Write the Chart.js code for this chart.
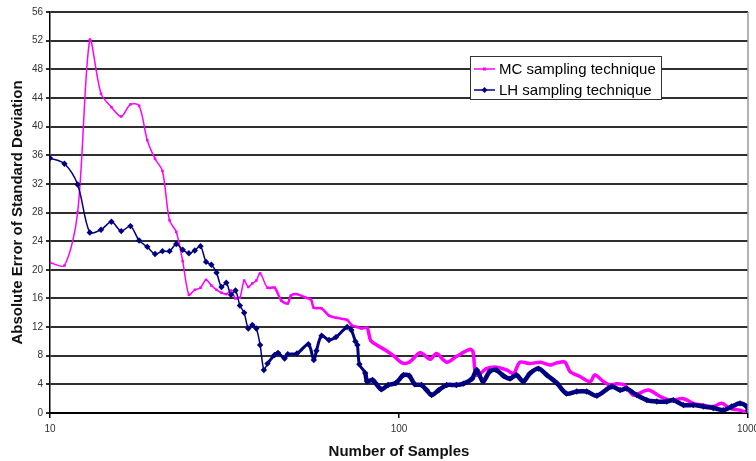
<!DOCTYPE html>
<html>
<head>
<meta charset="utf-8">
<script src="https://cdn.jsdelivr.net/npm/chart.js@4/dist/chart.umd.min.js"></script>
<style>
  html, body { margin: 0; padding: 0; background: #ffffff; }
  canvas { display: block; }
</style>
</head>
<body>
<canvas id="chart" width="756" height="461"></canvas>
<script>
// Monte Carlo sampling: sample count and absolute error of the standard deviation
const mcSamples = [10, 11, 12, 13, 14, 15, 16, 17, 18, 19, 20, 21, 22, 23, 24, 25, 26, 27, 28, 29,
  30, 31, 32, 33, 34, 35, 36, 37, 38, 39, 40, 42, 44, 46, 48, 49, 51, 54, 56, 57,
  60, 63, 66, 71, 73, 76, 78, 81, 83, 87, 92, 97, 102, 107, 115, 123, 128, 137, 146, 160,
  163, 166, 171, 178, 190, 204, 213, 222, 237, 254, 271, 283, 299, 309, 330, 353, 364, 385, 402, 421,
  444, 469, 518, 560, 598, 653, 697, 745, 795, 840, 888, 949, 1000];
const mcError = [21.0, 20.6, 28.0, 52.1, 44.6, 42.7, 41.4, 43.1, 42.9, 38.1, 35.5, 33.8, 26.9, 25.3, 21.2, 16.5, 17.2, 17.5, 18.6, 17.8,
  17.2, 16.8, 16.6, 17.1, 16.0, 16.1, 18.5, 17.6, 18.1, 18.5, 19.5, 17.5, 17.5, 15.7, 15.3, 16.4, 16.6, 16.1, 15.8, 14.7,
  14.6, 13.6, 13.3, 13.0, 12.3, 12.0, 11.8, 11.9, 10.1, 9.4, 8.7, 7.9, 7.0, 7.1, 8.4, 7.5, 8.3, 7.1, 7.9, 8.9,
  8.5, 5.3, 5.5, 6.2, 6.4, 6.0, 5.5, 7.1, 6.9, 7.1, 6.7, 7.0, 7.1, 5.8, 5.1, 4.4, 5.3, 4.4, 3.9, 4.1,
  3.9, 2.5, 3.2, 2.3, 1.8, 2.0, 1.35, 1.1, 0.9, 1.35, 0.65, 0.4, 0.0];

// Latin Hypercube sampling
const lhSamples = [10, 11, 12, 13, 14, 15, 16, 17, 18, 19, 20, 21, 22, 23, 24, 25, 26, 27, 28, 29,
  30, 31, 32, 33, 34, 35, 36, 37, 38, 39, 40, 41, 42, 44, 45, 47, 48, 51, 55, 57,
  58, 60, 63, 66, 71, 73, 75, 76, 77, 80, 81, 84, 89, 93, 98, 103, 107, 111, 116, 120,
  124, 130, 137, 146, 153, 162, 167, 174, 182, 190, 199, 208, 217, 227, 237, 251, 265, 283, 302, 323,
  345, 369, 407, 430, 449, 480, 513, 548, 585, 611, 653, 697, 745, 795, 849, 898, 949, 992, 1000];
const lhError = [35.6, 34.8, 31.9, 25.2, 25.6, 26.7, 25.4, 26.1, 24.1, 23.2, 22.2, 22.6, 22.6, 23.6, 22.8, 22.3, 22.7, 23.3, 21.1, 20.7,
  19.6, 17.6, 18.2, 16.5, 17.1, 15.0, 14.0, 11.8, 12.3, 11.8, 9.5, 6.0, 6.9, 8.1, 8.4, 7.6, 8.2, 8.3, 9.6, 7.4,
  8.7, 10.8, 10.2, 10.6, 12.0, 11.6, 10.0, 9.5, 6.8, 5.6, 4.4, 4.6, 3.3, 3.9, 4.2, 5.3, 5.2, 4.0, 3.9, 3.2,
  2.5, 3.2, 3.9, 3.9, 4.1, 4.8, 6.0, 4.4, 5.8, 6.0, 5.2, 4.8, 5.3, 4.4, 5.5, 6.2, 5.3, 4.2, 2.7, 3.0,
  3.0, 2.4, 3.7, 3.2, 3.4, 2.5, 1.8, 1.6, 1.6, 1.8, 1.1, 1.1, 0.9, 0.7, 0.4, 0.9, 1.35, 0.9, 0.3];

const seriesNames = ['MC sampling technique', 'LH sampling technique'];
const xTickValues = [10, 100, 1000];
const yMin = 0, yMax = 56, yStep = 2;

const FONT = '"Liberation Sans", Arial, Helvetica, sans-serif';

const toPoints = (xs, ys) => xs.map((x, i) => ({ x: x, y: ys[i] }));

// Markers crowd together as samples get denser, so the trace thickens
const bandWidth = (thin, mid, thick) => ctx => {
  const n = ctx.p0.parsed.x;
  return n < 42 ? thin : (n < 80 ? mid : thick);
};

// Boxed legend drawn inside the plot area, plus the plot's right edge
const framePlugin = {
  id: 'frame',
  afterDatasetsDraw(chart) {
    const { ctx, chartArea } = chart;
    ctx.save();
    ctx.strokeStyle = '#9a9a9a';
    ctx.lineWidth = 1.5;
    ctx.beginPath();
    ctx.moveTo(chartArea.right, chartArea.top);
    ctx.lineTo(chartArea.right, chartArea.bottom);
    ctx.stroke();

    const bx = 470.5, by = 56.5, bw = 191, bh = 43;
    ctx.fillStyle = '#ffffff';
    ctx.fillRect(bx, by, bw, bh);
    ctx.strokeStyle = '#333333';
    ctx.lineWidth = 1;
    ctx.strokeRect(bx, by, bw, bh);

    const rows = [
      { ds: chart.data.datasets[0], y: 69 },
      { ds: chart.data.datasets[1], y: 90 }
    ];
    ctx.font = '15px ' + FONT;
    ctx.textBaseline = 'middle';
    rows.forEach(r => {
      ctx.strokeStyle = r.ds.borderColor;
      ctx.lineWidth = 1.5;
      ctx.beginPath();
      ctx.moveTo(474, r.y);
      ctx.lineTo(495, r.y);
      ctx.stroke();
      ctx.fillStyle = r.ds.borderColor;
      ctx.beginPath();
      if (r.ds.pointStyle === 'rectRot') {
        ctx.moveTo(484.5, r.y - 3); ctx.lineTo(487.5, r.y); ctx.lineTo(484.5, r.y + 3); ctx.lineTo(481.5, r.y);
      } else {
        ctx.rect(483, r.y - 1.5, 3, 3);
      }
      ctx.closePath();
      ctx.fill();
      ctx.fillStyle = '#000000';
      ctx.fillText(r.ds.label, 499, r.y + 1);
    });
    ctx.restore();
  }
};

new Chart(document.getElementById('chart'), {
  type: 'line',
  data: {
    datasets: [
      {
        label: seriesNames[0],
        data: toPoints(mcSamples, mcError),
        borderColor: '#ff00ff',
        backgroundColor: '#ff00ff',
        pointBackgroundColor: '#ff00ff',
        pointBorderColor: '#ff00ff',
        pointStyle: 'rect',
        pointRadius: 1.8,
        pointBorderWidth: 0,
        borderWidth: 1.5,
        tension: 0.3,
        order: 1,
        segment: { borderWidth: bandWidth(1.5, 2.5, 3.5) }
      },
      {
        label: seriesNames[1],
        data: toPoints(lhSamples, lhError),
        borderColor: '#000080',
        backgroundColor: '#000080',
        pointBackgroundColor: '#000080',
        pointBorderColor: '#000080',
        pointStyle: 'rectRot',
        pointRadius: 3.2,
        pointBorderWidth: 0,
        borderWidth: 1.5,
        tension: 0.3,
        order: 0,
        segment: { borderWidth: bandWidth(1.5, 3, 4.5) }
      }
    ]
  },
  options: {
    responsive: false,
    animation: false,
    events: [],
    layout: { padding: { top: 12, right: 8, left: 0, bottom: 0 } },
    plugins: {
      legend: { display: false },
      tooltip: { enabled: false }
    },
    scales: {
      x: {
        type: 'logarithmic',
        min: 10,
        max: 1000,
        afterBuildTicks: scale => { scale.ticks = xTickValues.map(v => ({ value: v })); },
        afterFit: scale => { scale.height = 48; scale.paddingLeft = 0; scale.paddingRight = 0; },
        ticks: {
          autoSkip: false,
          maxRotation: 0,
          padding: 5,
          color: '#333333',
          font: { family: FONT, size: 10 },
          callback: v => String(v)
        },
        grid: {
          drawOnChartArea: false,
          drawTicks: true,
          tickLength: 5,
          color: '#000000',
          lineWidth: 1.5
        },
        border: { display: true, color: '#000000', width: 2 },
        title: {
          display: true,
          text: 'Number of Samples',
          color: '#111111',
          font: { family: FONT, size: 15, weight: 'bold' },
          padding: { top: 0, bottom: 0 }
        }
      },
      y: {
        min: yMin,
        max: yMax,
        afterFit: scale => { scale.width = 50; scale.paddingTop = 0; scale.paddingBottom = 0; },
        ticks: {
          stepSize: yStep,
          padding: 3,
          color: '#333333',
          font: { family: FONT, size: 10 }
        },
        grid: {
          color: '#2f2f2f',
          lineWidth: 2,
          tickLength: 4,
          drawTicks: true
        },
        border: { display: true, color: '#000000', width: 1.5 },
        title: {
          display: true,
          text: 'Absolute Error of Standard Deviation',
          color: '#111111',
          font: { family: FONT, size: 15, weight: 'bold' },
          padding: { top: 9, bottom: 0 }
        }
      }
    }
  },
  plugins: [framePlugin]
});
</script>
</body>
</html>
